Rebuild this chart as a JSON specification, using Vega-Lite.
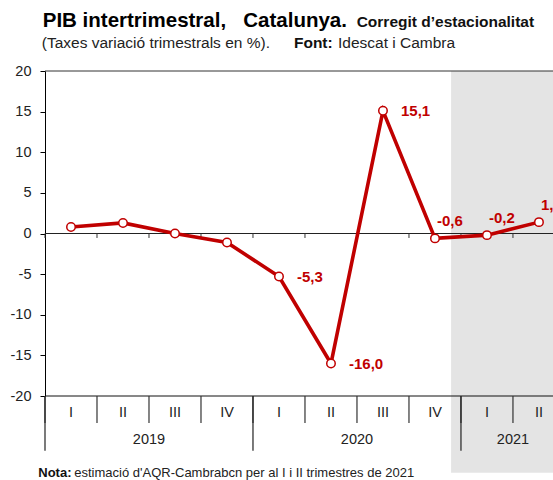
{
  "$schema": "https://vega.github.io/schema/vega-lite/v6.json",
  "autosize": {"type": "none"},
  "padding": {"left": 45, "top": 71, "right": 0, "bottom": 84},
  "width": 508,
  "height": 325,
  "config": {"font": "Liberation Sans", "view": {"stroke": null}},
  "data": {"values": [
    {"k": 0, "year": "2019", "q": "I", "v": 0.8, "lab": ""},
    {"k": 1, "year": "2019", "q": "II", "v": 1.3, "lab": ""},
    {"k": 2, "year": "2019", "q": "III", "v": 0.0, "lab": ""},
    {"k": 3, "year": "2019", "q": "IV", "v": -1.1, "lab": ""},
    {"k": 4, "year": "2020", "q": "I", "v": -5.3, "lab": "-5,3"},
    {"k": 5, "year": "2020", "q": "II", "v": -16.0, "lab": "-16,0"},
    {"k": 6, "year": "2020", "q": "III", "v": 15.1, "lab": "15,1"},
    {"k": 7, "year": "2020", "q": "IV", "v": -0.6, "lab": "-0,6"},
    {"k": 8, "year": "2021", "q": "I", "v": -0.2, "lab": "-0,2"},
    {"k": 9, "year": "2021", "q": "II", "v": 1.4, "lab": "1,4"}
  ]},
  "encoding": {
    "x": {"type": "quantitative", "scale": {"domain": [0, 9.77], "nice": false, "zero": false}, "axis": null},
    "y": {"type": "quantitative", "scale": {"domain": [-20, 20], "nice": false, "zero": false}}
  },
  "layer": [
    {
      "data": {"values": [{}]},
      "mark": {"type": "rect", "color": "#e4e4e4", "clip": false},
      "encoding": {
        "x": {"datum": 7.81}, "x2": {"datum": 9.77},
        "y": {"datum": 20}, "y2": {"datum": -29.44}
      }
    },
    {
      "mark": {"type": "rule", "color": "#222", "strokeWidth": 1},
      "encoding": {
        "y": {"datum": 0, "type": "quantitative",
          "axis": {"values": [-20, -15, -10, -5, 0, 5, 10, 15, 20], "title": null, "grid": false,
            "tickSize": 5, "tickColor": "#000", "domainColor": "#000", "labelFontSize": 14.5,
            "labelColor": "#222", "labelPadding": 9, "labelExpr": "'' + datum.value"}}
      }
    },
    {
      "data": {"values": [{}]},
      "mark": {"type": "rule", "color": "#333", "strokeWidth": 1},
      "encoding": {"y": {"datum": 20}}
    },
    {
      "data": {"values": [{}]},
      "mark": {"type": "rule", "color": "#111", "strokeWidth": 1},
      "encoding": {"y": {"datum": -20}}
    },
    {
      "mark": {"type": "rule", "color": "#333", "strokeWidth": 1},
      "encoding": {"x": {"field": "k"}, "y": {"datum": 0}, "y2": {"datum": -0.55}}
    },
    {
      "mark": {"type": "rule", "color": "#333", "strokeWidth": 1.2, "clip": false},
      "encoding": {"x": {"field": "k"}, "y": {"datum": -20}, "y2": {"datum": -23.32}}
    },
    {
      "transform": [{"filter": "datum.q == 'I'"}],
      "mark": {"type": "rule", "color": "#222", "strokeWidth": 1.2, "clip": false},
      "encoding": {"x": {"field": "k"}, "y": {"datum": -20}, "y2": {"datum": -26.73}}
    },
    {
      "mark": {"type": "text", "fontSize": 14.5, "color": "#222", "baseline": "middle", "align": "center", "xOffset": 26},
      "encoding": {"x": {"field": "k"}, "y": {"datum": -22.09}, "text": {"field": "q"}}
    },
    {
      "mark": {"type": "text", "fontSize": 14.5, "color": "#222", "baseline": "middle", "align": "center", "xOffset": 26},
      "encoding": {"x": {"field": "k", "aggregate": "mean"}, "y": {"datum": -25.42}, "text": {"field": "year"}}
    },
    {
      "mark": {"type": "line", "color": "#c00000", "strokeWidth": 3.6, "xOffset": 26},
      "encoding": {"x": {"field": "k"}, "y": {"field": "v"}}
    },
    {
      "mark": {"type": "point", "filled": true, "fill": "white", "stroke": "#c00000", "strokeWidth": 1.5, "size": 72, "opacity": 1, "xOffset": 26},
      "encoding": {"x": {"field": "k"}, "y": {"field": "v"}}
    },
    {
      "transform": [{"filter": "datum.k >= 4 && datum.k <= 6"}],
      "mark": {"type": "text", "fontSize": 15, "fontWeight": "bold", "color": "#c00000", "align": "left", "baseline": "middle", "xOffset": 26, "dx": 18},
      "encoding": {"x": {"field": "k"}, "y": {"field": "v"}, "text": {"field": "lab"}}
    },
    {
      "transform": [{"filter": "datum.k >= 7"}],
      "mark": {"type": "text", "fontSize": 15, "fontWeight": "bold", "color": "#c00000", "align": "left", "baseline": "middle", "xOffset": 26, "dx": 2, "dy": -17},
      "encoding": {"x": {"field": "k"}, "y": {"field": "v"}, "text": {"field": "lab"}}
    },
    {
      "data": {"values": [{}]},
      "mark": {"type": "text", "fontSize": 20.5, "fontWeight": "bold", "color": "#000", "align": "left", "baseline": "alphabetic", "text": "PIB intertrimestral,"},
      "encoding": {"x": {"datum": -0.044}, "y": {"datum": 25.45}}
    },
    {
      "data": {"values": [{}]},
      "mark": {"type": "text", "fontSize": 20.5, "fontWeight": "bold", "color": "#000", "align": "left", "baseline": "alphabetic", "text": "Catalunya."},
      "encoding": {"x": {"datum": 3.813}, "y": {"datum": 25.45}}
    },
    {
      "data": {"values": [{}]},
      "mark": {"type": "text", "fontSize": 15.5, "fontWeight": "bold", "color": "#111", "align": "left", "baseline": "alphabetic", "text": "Corregit d’estacionalitat"},
      "encoding": {"x": {"datum": 5.994}, "y": {"datum": 25.45}}
    },
    {
      "data": {"values": [{}]},
      "mark": {"type": "text", "fontSize": 15.5, "color": "#222", "align": "left", "baseline": "alphabetic", "text": "(Taxes variació  trimestrals en %)."},
      "encoding": {"x": {"datum": -0.063}, "y": {"datum": 22.79}}
    },
    {
      "data": {"values": [{}]},
      "mark": {"type": "text", "fontSize": 15.5, "fontWeight": "bold", "color": "#111", "align": "left", "baseline": "alphabetic", "text": "Font:"},
      "encoding": {"x": {"datum": 4.788}, "y": {"datum": 22.79}}
    },
    {
      "data": {"values": [{}]},
      "mark": {"type": "text", "fontSize": 15.5, "color": "#222", "align": "left", "baseline": "alphabetic", "text": "Idescat i Cambra"},
      "encoding": {"x": {"datum": 5.635}, "y": {"datum": 22.79}}
    },
    {
      "data": {"values": [{}]},
      "mark": {"type": "text", "fontSize": 13, "fontWeight": "bold", "color": "#111", "align": "left", "baseline": "alphabetic", "text": "Nota:"},
      "encoding": {"x": {"datum": -0.129}, "y": {"datum": -29.93}}
    },
    {
      "data": {"values": [{}]},
      "mark": {"type": "text", "fontSize": 13, "color": "#222", "align": "left", "baseline": "alphabetic", "text": "estimació d'AQR-Cambrabcn per al I i II trimestres de 2021"},
      "encoding": {"x": {"datum": 0.563}, "y": {"datum": -29.93}}
    }
  ]
}
